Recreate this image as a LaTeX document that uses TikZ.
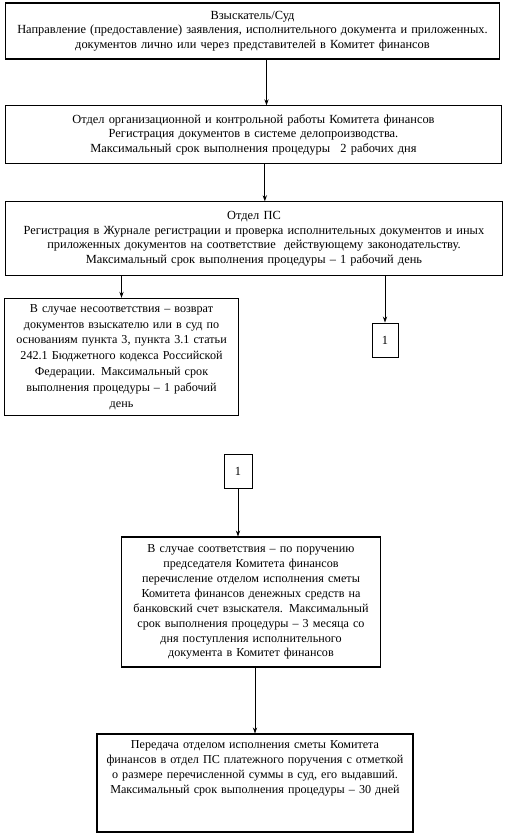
\documentclass[tikz,border=0pt]{standalone}
\usepackage{fontspec}
\setmainfont{Liberation Serif}
\usetikzlibrary{arrows.meta}

\begin{document}
\begin{tikzpicture}[x=0.75pt,y=-0.75pt,>={Stealth[length=4.5pt,width=3.2pt]},
  box/.style={draw,line width=0.8pt,align=center,inner sep=1.5pt,
    font=\fontsize{9.3}{10.9}\selectfont},
  small/.style={font=\fontsize{9.1}{11.2}\selectfont},
  link/.style={->,line width=0.6pt}]
\useasboundingbox (0,0) rectangle (509,838);
\node[box,text width=368pt,minimum height=42pt] (claim) at (252.5,31)
  {Взыскатель/Суд\\Направление (предоставление) заявления, исполнительного документа и приложенных.\\ документов лично или через представителей в Комитет финансов};
\node[box,text width=369pt,minimum height=43pt] (office) at (253.5,134.5)
  {Отдел организационной и контрольной работы Комитета финансов\\Регистрация документов в системе делопроизводства.\\Максимальный срок выполнения процедуры\enspace\ 2 рабочих дня};
\node[box,text width=370pt,minimum height=55pt] (dept) at (254,238.5)
  {Отдел ПС\\Регистрация в Журнале регистрации и проверка исполнительных документов и иных\\приложенных документов на соответствие\ \ действующему законодательству.\\Максимальный срок выполнения процедуры – 1 рабочий день};
\node[box,small,text width=172pt,minimum height=88pt,font=\fontsize{9.1}{11.9}\selectfont] (refuse) at (121.5,357)
  {В случае несоответствия – возврат\\документов взыскателю или в суд по\\основаниям пункта 3, пункта 3.1 статьи\\242.1 Бюджетного кодекса Российской\\Федерации. Максимальный срок\\выполнения процедуры – 1 рабочий\\день};
\node[box,line width=0.7pt,minimum width=19.5pt,minimum height=25.5pt,inner sep=0pt] (jumpA) at (385,340) {1};
\node[box,line width=0.7pt,minimum width=21pt,minimum height=25.5pt,inner sep=0pt] (jumpB) at (238,471) {1};
\node[box,small,text width=191pt,minimum height=97.5pt] (pay) at (251,602)
  {В случае соответствия – по поручению\\председателя Комитета финансов\\перечисление отделом исполнения сметы\\Комитета финансов денежных средств на\\банковский счет взыскателя. Максимальный\\срок выполнения процедуры – 3 месяца со\\дня поступления исполнительного\\документа в Комитет финансов};
\node[box,small,text width=234pt,minimum height=73.5pt] (report) at (255,783)
  {Передача отделом исполнения сметы Комитета\\финансов в отдел ПС платежного поручения с отметкой\\о размере перечисленной суммы в суд, его выдавший.\\Максимальный срок выполнения процедуры – 30 дней\\[10pt]\strut};
\draw[link] ([xshift=10.5pt]claim.south) -- ([xshift=10.5pt]claim.south |- office.north);
\draw[link] ([xshift=8.5pt]office.south) -- ([xshift=8.5pt]office.south |- dept.north);
\draw[link] (refuse.north |- dept.south) -- (refuse.north);
\draw[link] (jumpA.north |- dept.south) -- (jumpA.north);
\draw[link] (jumpB.south) -- (jumpB.south |- pay.north);
\draw[link] (report.north |- pay.south) -- (report.north);
\end{tikzpicture}
\end{document}
